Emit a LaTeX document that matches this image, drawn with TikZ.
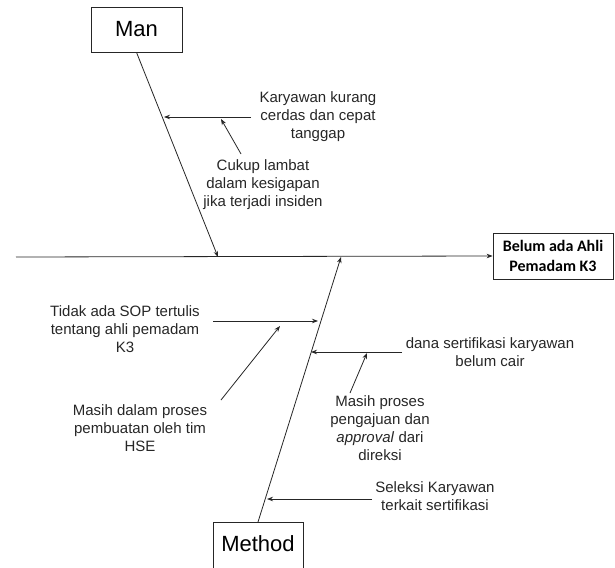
\documentclass[tikz,border=0pt]{standalone}
\usepackage{fontspec}
\setmainfont{Liberation Sans}
\newfontfamily\calib{Carlito}
\usetikzlibrary{arrows.meta,calc}
\begin{document}
\begin{tikzpicture}[x=1pt,y=-1pt,
  line/.style={line width=0.8pt,draw=black!85},
  arr/.style={line, -{Stealth[length=6pt,width=4.5pt]}},
  lbl/.style={font=\fontsize{15}{18}\selectfont, align=center, inner sep=1pt, text=black!85},
  bigbox/.style={draw=black!85, line width=0.8pt, font=\fontsize{22}{26}\selectfont, inner sep=0pt}]
\useasboundingbox (0,0) rectangle (615,567);
\clip (0,0) rectangle (615,567);
% heads
\node[bigbox, minimum width=91, minimum height=45] (man) at (136.5,29.5) {Man};
\node[draw=black!85, line width=0.8pt, minimum width=120, minimum height=46, align=center,
      font=\calib\bfseries\fontsize{16}{20}\selectfont, inner sep=0pt] (belum) at (553,256) {Belum ada Ahli\\Pemadam K3};
\node[draw=black!85, line width=0.8pt, minimum width=90, minimum height=60, anchor=north] (methodbox) at (258,522) {};
\node[font=\fontsize{22}{26}\selectfont, inner sep=0pt] (methodtxt) at (258,544) {Method};
% spine
\coordinate (tail) at (16,257);
\coordinate (manend) at (218,257);
\coordinate (methodend) at (341,257);
\draw[arr] (tail) -- (belum.west);
\draw[arr] (man.south) -- (manend);
\draw[arr] (methodbox.north) -- (methodend);
% bone points
\coordinate (b1) at (164,117);
\coordinate (b2) at (318,321);
\coordinate (b3) at (311,352);
\coordinate (b4) at (267,499);
% labels
\node[lbl] (karyawan) at (318,117) {Karyawan kurang\\cerdas dan cepat\\tanggap};
\node[lbl] (cukup) at (263,185) {Cukup lambat\\dalam kesigapan\\jika terjadi insiden};
\node[lbl] (tidak) at (125,329) {Tidak ada SOP tertulis\\tentang ahli pemadam\\K3};
\node[lbl] (masihdalam) at (140,428) {Masih dalam proses\\pembuatan oleh tim\\HSE};
\node[lbl] (dana) at (490,352) {dana sertifikasi karyawan\\belum cair};
\node[lbl] (masihproses) at (380,428) {Masih proses\\pengajuan dan\\\textit{approval} dari\\direksi};
\node[lbl] (seleksi) at (435,496) {Seleksi Karyawan\\terkait sertifikasi};
% cause arrows
\coordinate (k1) at (251,117);
\draw[arr] (k1) -- (b1);
\coordinate (t1) at (213,321);
\draw[arr] (t1) -- (b2);
\coordinate (d1) at (402,352);
\draw[arr] (d1) -- (b3);
\coordinate (s1) at (372,499);
\draw[arr] (s1) -- (b4);
% sub-cause arrows
\coordinate (c1) at (241,154);
\coordinate (c2) at (221,119);
\draw[arr] (c1) -- (c2);
\coordinate (m1) at (221,400);
\coordinate (m2) at (280,326);
\draw[arr] (m1) -- (m2);
\coordinate (p1) at (350,393);
\coordinate (p2) at (367,353);
\draw[arr] (p1) -- (p2);
\end{tikzpicture}
\end{document}
